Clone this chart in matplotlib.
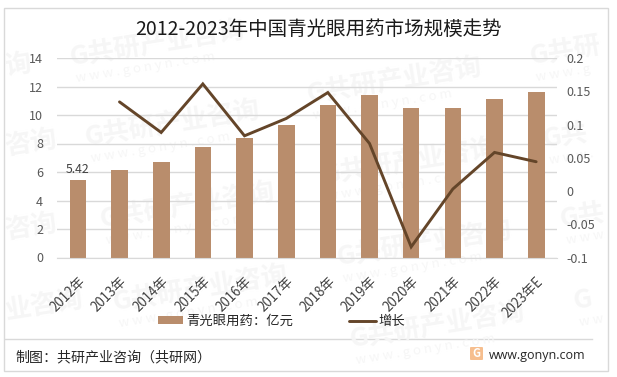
import matplotlib
matplotlib.use('Agg')
from matplotlib import pyplot as plt
from matplotlib.patches import Rectangle, FancyBboxPatch
from matplotlib.lines import Line2D
from matplotlib.transforms import ScaledTranslation

plt.rcParams['font.family'] = ['Noto Sans CJK SC', 'DejaVu Sans']

years = ['2012年', '2013年', '2014年', '2015年', '2016年', '2017年',
         '2018年', '2019年', '2020年', '2021年', '2022年', '2023年E']
market = [5.42, 6.13, 6.69, 7.75, 8.38, 9.3, 10.7, 11.4, 10.5, 10.5, 11.13, 11.6]
growth = [None, 0.134, 0.088, 0.161, 0.083, 0.109, 0.148, 0.0715, -0.084, 0.003, 0.058, 0.044]
left_ticks = [0, 2, 4, 6, 8, 10, 12, 14]
right_ticks = [-0.1, -0.05, 0, 0.05, 0.1, 0.15, 0.2]
right_labels = ['-0.1', '-0.05', '0', '0.05', '0.1', '0.15', '0.2']

W, H = 617, 377
bar_color = '#B98D6C'
line_color = '#644529'
grid_color = '#D9D9D9'
tick_color = '#595959'
wm_color = '#F6F6F6'

fig = plt.figure(figsize=(W / 100, H / 100), dpi=100)
fig.patch.set_facecolor('white')

# page layer, in pixels
bg = fig.add_axes([0, 0, 1, 1], zorder=0)
bg.set_xlim(0, W)
bg.set_ylim(H, 0)
bg.axis('off')

# watermark, the ones at the edges only hold the part that shows
wm_spots = [(70, 58, 'G共研产业咨询', 'www.gonyn.com'),
            (85, 138, 'G共研产业咨询', 'www.gonyn.com'),
            (100, 220, 'G共研产业咨询', 'www.gonyn.com'),
            (113, 303, 'G共研产业咨询', 'www.gonyn.com'),
            (307, 95, 'G共研产业咨询', 'www.gonyn.com'),
            (322, 176, 'G共研产业咨询', 'www.gonyn.com'),
            (337, 258, 'G共研产业咨询', 'www.gonyn.com'),
            (350, 340, 'G共研产业咨询', 'www.gonyn.com'),
            (530, 57, 'G共研', 'www.g'),
            (543, 140, 'G共', 'www.'),
            (560, 220, 'G共', 'www'),
            (573, 302, 'G', 'ww'),
            (5, 68, '询', ''),
            (5, 148, '咨询', ''),
            (5, 232, '咨询', ''),
            (5, 312, '业咨询', '')]
for wx, wy, name, site in wm_spots:
    bg.text(wx, wy, name, fontsize=19, fontweight='bold', color=wm_color,
            rotation=9, ha='left', va='center', rotation_mode='anchor')
    if site:
        bg.text(wx + 6, wy + 21, ' '.join(site), fontsize=9.5, color=wm_color,
                rotation=9, ha='left', va='center', rotation_mode='anchor')

bg.add_patch(Rectangle((3.5, 7.5), 604.5, 363, fill=False, ec='#D9D9D9', lw=1))
bg.add_line(Line2D([5, 592], [338.5, 338.5], color='#D9D9D9', lw=1))
bg.text(319, 29, '2012-2023年中国青光眼用药市场规模走势', fontsize=14.05, color='#1A1A1A',
        ha='center', va='center')
bg.text(15, 357, '制图：共研产业咨询（共研网）', fontsize=10.1, color='#262626', ha='left', va='center')
bg.text(489, 355, 'www.gonyn.com', fontsize=9, color='#262626', ha='left', va='center',
        family=['Open Sans', 'DejaVu Sans'])
bg.add_patch(FancyBboxPatch((471, 348), 11, 11, boxstyle='round,pad=1', fc='#F6BE8E', ec='none'))
bg.text(476.5, 353.5, 'G', fontsize=8, fontweight='bold', color='white', ha='center', va='center')

# chart
ax = fig.add_axes([57 / W, 1 - 257.5 / H, 500 / W, 199.5 / H], zorder=1)
ax.patch.set_alpha(0)
x = list(range(len(years)))
ax.bar(x, market, width=0.4, color=bar_color, zorder=2)
ax.set_xlim(-0.5, 11.5)
ax.set_ylim(0, 14)
ax.set_yticks(left_ticks)
ax.set_xticks(x)
ax.set_xticklabels(years, rotation=45, ha='right', rotation_mode='anchor', fontsize=9.6, color='#404040')
shift = ScaledTranslation(-3 / 100, 2 / 100, fig.dpi_scale_trans)
for lab in ax.get_xticklabels():
    lab.set_transform(lab.get_transform() + shift)
ax.grid(axis='y', color=grid_color, lw=1, zorder=0)
ax.set_axisbelow(True)
ax.tick_params(axis='both', length=0)
ax.tick_params(axis='y', labelsize=9, labelcolor=tick_color, pad=10)
ax.tick_params(axis='x', pad=12)
for s in ['top', 'left', 'right']:
    ax.spines[s].set_visible(False)
ax.spines['bottom'].set_color(grid_color)
ax.text(0, 5.42 + 0.3, '5.42', fontsize=8.8, color='#404040', ha='center', va='bottom')

ax2 = ax.twinx()
ax2.patch.set_alpha(0)
ax2.plot(x[1:], growth[1:], color=line_color, lw=2.1, solid_joinstyle='miter', solid_capstyle='round')
ax2.set_ylim(-0.1, 0.2)
ax2.set_yticks(right_ticks)
ax2.set_yticklabels(right_labels)
ax2.tick_params(axis='y', length=0, labelsize=9, labelcolor=tick_color, pad=7)
for s in ax2.spines.values():
    s.set_visible(False)

# legend
fg = fig.add_axes([0, 0, 1, 1], zorder=3)
fg.set_xlim(0, W)
fg.set_ylim(H, 0)
fg.axis('off')
fg.add_patch(Rectangle((158, 316), 25, 8, fc=bar_color, ec='none'))
fg.text(186, 320.5, '青光眼用药：亿元', fontsize=9.6, color='#262626', ha='left', va='center')
fg.add_line(Line2D([349, 376], [320.5, 320.5], color=line_color, lw=2.1, solid_capstyle='round'))
fg.text(378, 320.5, '增长', fontsize=9.6, color='#262626', ha='left', va='center')

fig.savefig('out.png', dpi=100)
